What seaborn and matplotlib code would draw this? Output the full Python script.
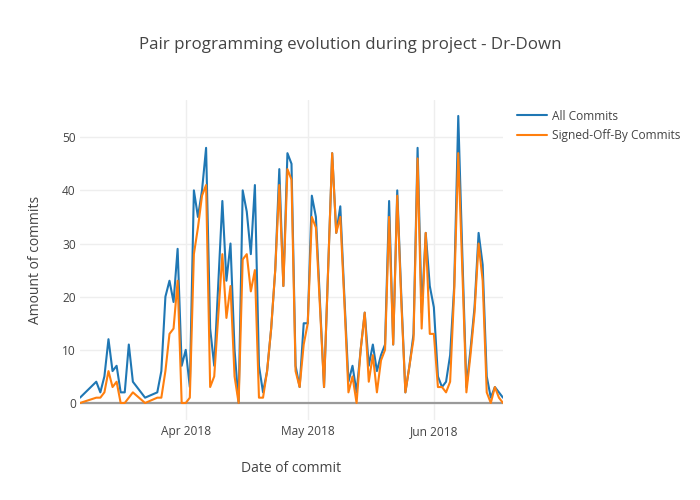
import pandas as pd
import numpy as np
import matplotlib
matplotlib.use('Agg')
import matplotlib.pyplot as plt
import matplotlib.dates as mdates
import seaborn as sns

# commit dates (days without commits are simply absent)
dates = ['2018-03-06', '2018-03-10', '2018-03-11', '2018-03-12', '2018-03-13', '2018-03-14',
         '2018-03-15', '2018-03-16', '2018-03-17', '2018-03-18', '2018-03-19', '2018-03-22',
         '2018-03-25', '2018-03-26', '2018-03-27', '2018-03-28', '2018-03-29', '2018-03-30',
         '2018-03-31', '2018-04-01', '2018-04-02', '2018-04-03', '2018-04-04', '2018-04-05',
         '2018-04-06', '2018-04-07', '2018-04-08', '2018-04-10', '2018-04-11', '2018-04-12',
         '2018-04-13', '2018-04-14', '2018-04-15', '2018-04-16', '2018-04-17', '2018-04-18',
         '2018-04-19', '2018-04-20', '2018-04-21', '2018-04-22', '2018-04-23', '2018-04-24',
         '2018-04-25', '2018-04-26', '2018-04-27', '2018-04-28', '2018-04-29', '2018-04-30',
         '2018-05-01', '2018-05-02', '2018-05-03', '2018-05-04', '2018-05-05', '2018-05-06',
         '2018-05-07', '2018-05-08', '2018-05-09', '2018-05-10', '2018-05-11', '2018-05-12',
         '2018-05-13', '2018-05-14', '2018-05-15', '2018-05-16', '2018-05-17', '2018-05-18',
         '2018-05-19', '2018-05-20', '2018-05-21', '2018-05-22', '2018-05-23', '2018-05-24',
         '2018-05-25', '2018-05-26', '2018-05-27', '2018-05-28', '2018-05-29', '2018-05-30',
         '2018-05-31', '2018-06-01', '2018-06-02', '2018-06-03', '2018-06-04', '2018-06-05',
         '2018-06-06', '2018-06-07', '2018-06-08', '2018-06-09', '2018-06-10', '2018-06-11',
         '2018-06-12', '2018-06-13', '2018-06-14', '2018-06-15', '2018-06-16', '2018-06-17',
         '2018-06-18']

all_commits = [1, 4, 2, 5, 12, 6, 7, 2, 2, 11, 4, 1,
               2, 6, 20, 23, 19, 29, 7, 10, 3, 40, 35, 40,
               48, 14, 7, 38, 23, 30, 10, 0, 40, 36, 28, 41,
               7, 2, 6, 14, 25, 44, 22, 47, 45, 7, 3, 15,
               15, 39, 35, 19, 3, 25, 47, 32, 37, 20, 4, 7,
               2, 10, 17, 7, 11, 6, 9, 11, 38, 11, 40, 20,
               2, 7, 13, 48, 17, 32, 22, 18, 5, 3, 4, 9,
               22, 54, 28, 3, 10, 18, 32, 26, 5, 1, 3, 2,
               1]

signed_off = [0, 1, 1, 2, 6, 3, 4, 0, 0, 1, 2, 0,
              1, 1, 6, 13, 14, 23, 0, 0, 1, 28, 33, 39,
              41, 3, 5, 28, 16, 22, 5, 0, 27, 28, 21, 25,
              1, 1, 6, 14, 25, 41, 22, 44, 42, 6, 3, 11,
              15, 35, 33, 18, 3, 25, 47, 32, 35, 19, 2, 5,
              0, 10, 17, 4, 9, 2, 8, 10, 35, 11, 39, 19,
              2, 7, 12, 46, 14, 32, 13, 13, 3, 3, 2, 4,
              21, 47, 25, 2, 9, 17, 30, 23, 2, 0, 3, 1,
              0]

series_names = ['All Commits', 'Signed-Off-By Commits']

df = pd.DataFrame({
    'date': pd.to_datetime(dates * 2),
    'commits': all_commits + signed_off,
    'series': [series_names[0]] * len(dates) + [series_names[1]] * len(dates),
})

sns.set_style('white')
plt.rcParams['font.family'] = ['Open Sans', 'DejaVu Sans']

fig = plt.figure(figsize=(7, 5), dpi=100)
ax = fig.add_axes([80 / 700, 80 / 500, 423 / 700, 320 / 500])

sns.lineplot(data=df, x='date', y='commits', hue='series',
             palette=['#1f77b4', '#ff7f0e'], linewidth=1.5, ax=ax, zorder=3)

ax.set_xlim(pd.Timestamp('2018-03-06'), pd.Timestamp('2018-06-18'))
ax.set_ylim(-3.2, 57)
ax.set_yticks([0, 10, 20, 30, 40, 50])
ax.xaxis.set_major_locator(mdates.MonthLocator(bymonthday=1))
ax.xaxis.set_major_formatter(mdates.DateFormatter('%b %Y'))

ax.grid(True, color='#eeeeee', linewidth=1)
ax.axhline(0, color='#9a9a9a', linewidth=1.6, zorder=2)
for s in ax.spines.values():
    s.set_visible(False)
ax.tick_params(axis='both', length=0, labelsize=8.6, colors='#444444')
ax.tick_params(axis='x', pad=3.5)
ax.tick_params(axis='y', pad=3)

ax.set_xlabel('Date of commit', fontsize=10, color='#444444', labelpad=17)
ax.set_ylabel('Amount of commits', fontsize=10, color='#444444', labelpad=14)

fig.suptitle('Pair programming evolution during project - Dr-Down',
             x=0.5, y=1 - 45 / 500, va='center', fontsize=12.2, color='#444444')

ax.legend(loc='upper left', bbox_to_anchor=(1.022, 0.985), frameon=False,
          fontsize=8.6, handlelength=2.5, handletextpad=0.42, labelspacing=0.55,
          borderaxespad=0, labelcolor='#444444')

fig.savefig('out.png', dpi=100)
